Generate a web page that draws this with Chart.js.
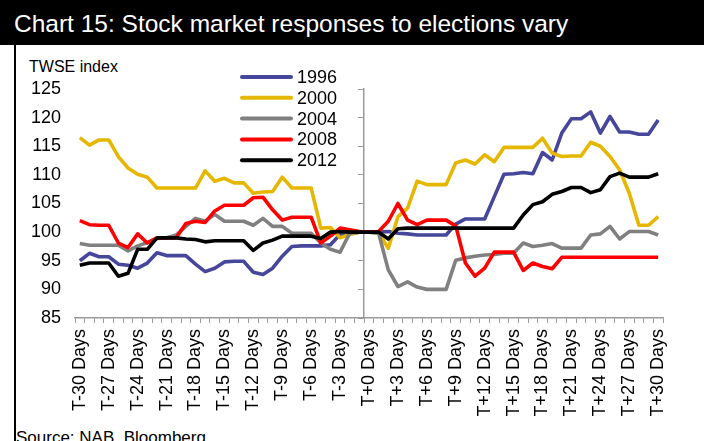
<!DOCTYPE html>
<html>
<head>
<meta charset="utf-8">
<title>Chart 15</title>
<script src="https://cdn.jsdelivr.net/npm/chart.js@4"></script>
<style>
  html, body { margin: 0; padding: 0; background: #fff; }
  #wrap {
    position: relative; width: 704px; height: 441px; overflow: hidden;
    font-family: 'Liberation Sans', Arial, sans-serif; color: #000;
  }
  #title {
    position: absolute; left: 0; top: 0; width: 704px; height: 45px;
    box-sizing: border-box; padding-left: 14px;
    background: #000; color: #fff; font-size: 24.5px; line-height: 47px;
    white-space: nowrap;
  }
  #rule { position: absolute; left: 14px; top: 45px; width: 2px; height: 396px; background: #000; }
  #unit { position: absolute; left: 29px; top: 58px; font-size: 16px; }
  #source { position: absolute; left: 16px; top: 428px; font-size: 17px; white-space: nowrap; }
  #chart { position: absolute; left: 0; top: 0; }
</style>
</head>
<body>
<div id="wrap">
  <div id="title">Chart 15: Stock market responses to elections vary</div>
  <div id="rule"></div>
  <div id="unit">TWSE index</div>
  <div id="source">Source: NAB, Bloomberg</div>
  <canvas id="chart" width="704" height="441"></canvas>
</div>

<script>
/* ── Data ───────────────────────────────────────────────── */

var days = [];
for (var d = -30; d <= 30; d++) {
  days.push('T' + (d < 0 ? '-' : '+') + Math.abs(d) + ' Days');
}

var years = ['1996', '2000', '2004', '2008', '2012'];

var s1996 = [95.0, 96.3, 95.7, 95.7, 94.4, 94.2, 93.7, 94.6, 96.4, 95.9,
             95.9, 95.9, 94.4, 93.1, 93.7, 94.8, 94.9, 94.9, 93.0, 92.6,
             93.7, 95.8, 97.5, 97.6, 97.6, 97.6, 97.8, 99.6, 99.8, 100.0,
             100.0, 100.0, 100.1, 99.8, 99.7, 99.5, 99.5, 99.5, 99.5, 101.4,
             102.3, 102.3, 102.3, 106.2, 110.1, 110.2, 110.4, 110.2, 113.9, 112.6,
             117.3, 119.8, 119.8, 121.0, 117.3, 120.2, 117.5, 117.5, 117.1, 117.1,
             119.6];

var s2000 = [116.5, 115.2, 116.1, 116.1, 113.2, 111.2, 110.1, 109.6, 107.7, 107.7,
             107.7, 107.7, 107.7, 110.7, 108.9, 109.4, 108.6, 108.6, 106.8, 107.0,
             107.1, 109.6, 107.7, 107.7, 107.7, 100.7, 100.8, 99.0, 99.6, 100.0,
             100.0, 99.8, 97.2, 102.7, 104.2, 108.9, 108.3, 108.3, 108.3, 112.1,
             112.6, 111.9, 113.5, 112.3, 114.8, 114.8, 114.8, 114.8, 116.4, 113.8,
             113.2, 113.3, 113.3, 115.7, 115.0, 113.2, 110.9, 106.8, 101.2, 101.2,
             102.7];

var s2004 = [98.0, 97.7, 97.7, 97.7, 97.7, 96.7, 97.6, 98.2, 98.9, 99.0,
             99.5, 101.0, 102.4, 101.9, 103.1, 101.9, 101.9, 101.9, 101.2, 102.4,
             101.0, 101.0, 99.8, 99.8, 99.8, 98.1, 97.0, 96.5, 99.8, 100.0,
             100.0, 99.8, 93.4, 90.5, 91.3, 90.4, 90.0, 90.0, 90.0, 95.1,
             95.5, 95.8, 96.0, 96.1, 96.3, 96.3, 98.1, 97.5, 97.7, 98.0,
             97.2, 97.2, 97.2, 99.5, 99.7, 101.0, 98.8, 100.1, 100.1, 100.1,
             99.5];

var s2008 = [102.0, 101.3, 101.2, 101.2, 98.1, 97.3, 99.7, 98.1, 99.0, 99.0,
             99.0, 101.5, 101.9, 101.7, 103.7, 104.7, 104.7, 104.7, 106.0, 106.1,
             103.9, 102.1, 102.6, 102.6, 102.6, 98.1, 99.3, 100.7, 100.4, 100.1,
             100.0, 100.1, 101.9, 105.0, 102.1, 101.3, 102.1, 102.1, 102.1, 101.1,
             94.6, 92.3, 93.7, 96.5, 96.5, 96.5, 93.3, 94.6, 94.0, 93.6,
             95.6, 95.6, 95.6, 95.6, 95.6, 95.6, 95.6, 95.6, 95.6, 95.6,
             95.6];

var s2012 = [94.2, 94.6, 94.6, 94.6, 92.3, 92.8, 97.0, 97.0, 99.0, 99.0,
             99.0, 98.8, 98.7, 98.3, 98.5, 98.5, 98.5, 98.5, 96.8, 98.1,
             98.6, 99.3, 99.3, 99.3, 99.3, 98.9, 100.0, 100.1, 100.0, 100.0,
             100.0, 100.0, 98.8, 100.6, 100.7, 100.7, 100.7, 100.7, 100.7, 100.7,
             100.7, 100.7, 100.7, 100.7, 100.7, 100.7, 103.0, 104.8, 105.3, 106.6,
             107.1, 107.8, 107.8, 106.9, 107.4, 109.7, 110.3, 109.6, 109.6, 109.6,
             110.2];

var seriesColors = ['#46469A', '#E6B700', '#808080', '#FF0000', '#000000'];

var yMin = 85, yMax = 125, yStep = 5;

/* ── Legend drawn inside the plot, top middle ───────────── */

var keyPlugin = {
  id: 'yearKey',
  afterDatasetsDraw: function (chart) {
    var ctx = chart.ctx;
    ctx.save();
    ctx.font = '18px "Liberation Sans", Arial, sans-serif';
    ctx.textBaseline = 'middle';
    ctx.textAlign = 'left';
    chart.data.datasets.forEach(function (ds, i) {
      var y = 77 + i * 20.8;
      ctx.strokeStyle = ds.borderColor;
      ctx.lineWidth = 4;
      ctx.lineCap = 'round';
      ctx.beginPath();
      ctx.moveTo(242, y);
      ctx.lineTo(291, y);
      ctx.stroke();
      ctx.fillStyle = '#000';
      ctx.fillText(ds.label, 297, y + 1);
    });
    ctx.restore();
  }
};

/* ── Chart ──────────────────────────────────────────────── */

var allSeries = [s1996, s2000, s2004, s2008, s2012];
var axisGrey = '#9a9a9a';
var font18 = { family: "'Liberation Sans', Arial, sans-serif", size: 18 };

new Chart(document.getElementById('chart'), {
  type: 'line',
  data: {
    labels: days,
    datasets: allSeries.map(function (vals, i) {
      return {
        label: years[i],
        data: vals,
        borderColor: seriesColors[i],
        borderWidth: 3.6,
        borderJoinStyle: 'round',
        pointRadius: 0,
        tension: 0,
        order: allSeries.length - i
      };
    })
  },
  options: {
    responsive: false,
    animation: false,
    devicePixelRatio: 1,
    layout: { padding: { left: 0, right: 41, top: 89, bottom: 0 } },
    plugins: { legend: { display: false }, tooltip: { enabled: false } },
    scales: {
      x: {
        offset: true,
        grid: {
          offset: true,
          drawOnChartArea: false,
          tickLength: 5,
          color: axisGrey
        },
        border: { color: axisGrey, width: 1.5 },
        ticks: {
          autoSkip: false,
          minRotation: 90,
          maxRotation: 90,
          padding: 6,
          color: '#000',
          font: font18,
          callback: function (v, i) { return i % 3 === 0 ? days[i] : ''; }
        },
        afterFit: function (s) { s.height = 123; }
      },
      y: {
        min: yMin,
        max: yMax,
        grid: { display: false, drawTicks: false },
        border: { display: false },
        ticks: { stepSize: yStep, padding: 14, color: '#000', font: font18 },
        afterFit: function (s) { s.width = 75; }
      },
      /* value axis crossing at election day */
      y2: {
        position: { x: 29.5 },
        min: yMin,
        max: yMax,
        grid: { drawOnChartArea: false, tickLength: 5, color: axisGrey },
        border: { color: axisGrey, width: 1.5 },
        ticks: { display: false, stepSize: yStep },
        afterFit: function (s) { s.width = 0; }
      }
    }
  },
  plugins: [keyPlugin]
});
</script>
</body>
</html>
